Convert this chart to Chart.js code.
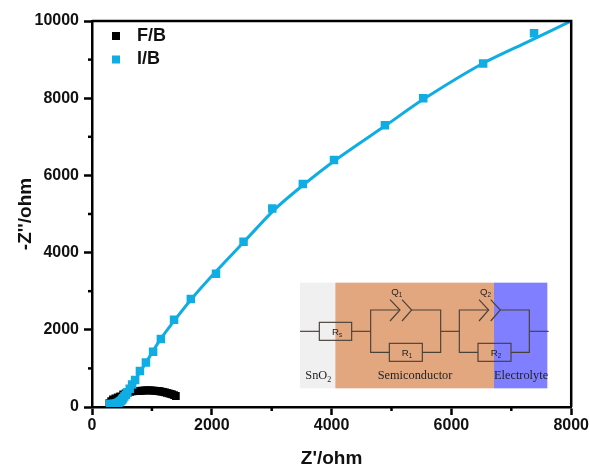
<!DOCTYPE html>
<html lang="en">
<head>
<meta charset="UTF-8">
<title>Nyquist plot</title>
<script src="https://cdn.jsdelivr.net/npm/chart.js"></script>
<style>
    html, body { margin: 0; padding: 0; background: #fff; }
    #box { position: relative; width: 590px; height: 468px; }
</style>
</head>
<body>
<div id="box"><canvas id="nyquist" width="590" height="468"></canvas></div>
<script>
// values
const fbX = [290, 320, 350, 390, 430, 470, 520, 560, 600, 640, 680, 710, 740, 770, 800, 830, 860, 890, 920, 950, 980, 1010, 1040, 1070, 1100, 1130, 1160, 1190, 1220, 1250, 1280, 1310, 1340, 1370, 1400];
const fbY = [100, 150, 195, 225, 250, 275, 325, 350, 375, 395, 405, 410, 415, 418, 420, 422, 425, 428, 430, 430, 430, 425, 425, 420, 415, 408, 400, 392, 380, 368, 355, 340, 325, 305, 285];
const ibX = [300, 340, 370, 395, 415, 430, 445, 460, 475, 490, 505, 520, 540, 565, 590, 630, 670, 720, 800, 900, 1020, 1150, 1370, 1650, 2070, 2530, 3010, 3520, 4040, 4890, 5530, 6530, 7380];
const ibY = [75, 75, 80, 85, 95, 105, 115, 130, 150, 170, 195, 225, 270, 320, 385, 470, 580, 700, 930, 1150, 1430, 1760, 2260, 2800, 3450, 4280, 5140, 5780, 6400, 7300, 8000, 8900, 9680];
const fitX = [300, 380, 440, 500, 570, 650, 750, 900, 1150, 1400, 1700, 2100, 2550, 3050, 3550, 4050, 4900, 5550, 6500, 7300, 8000];
const fitY = [70, 85, 120, 190, 340, 520, 780, 1150, 1770, 2290, 2870, 3560, 4300, 5120, 5780, 6380, 7290, 7990, 8880, 9480, 10000];
const xTicks = [0, 2000, 4000, 6000, 8000];
const yTicks = [0, 2000, 4000, 6000, 8000, 10000];
const xMinor = [1000, 3000, 5000, 7000];
const yMinor = [1000, 3000, 5000, 7000, 9000];
const blue = '#0FADE3';

function pairs(xs, ys) {
    return xs.map((x, i) => ({ x: x, y: ys[i] }));
}

// top and right spines, short ticks
const framePlugin = {
    id: 'frame',
    afterDraw(chart) {
        const ctx = chart.ctx, a = chart.chartArea;
        ctx.save();
        ctx.strokeStyle = '#000';
        ctx.lineWidth = 2.5;
        ctx.beginPath();
        ctx.moveTo(a.left, a.top);
        ctx.lineTo(a.right, a.top);
        ctx.lineTo(a.right, a.bottom);
        ctx.stroke();
        xMinor.forEach(v => {
            const p = chart.scales.x.getPixelForValue(v);
            ctx.beginPath();
            ctx.moveTo(p, a.bottom);
            ctx.lineTo(p, a.bottom + 4);
            ctx.stroke();
        });
        yMinor.forEach(v => {
            const p = chart.scales.y.getPixelForValue(v);
            ctx.beginPath();
            ctx.moveTo(a.left, p);
            ctx.lineTo(a.left - 4, p);
            ctx.stroke();
        });
        ctx.restore();
    }
};

const legendPlugin = {
    id: 'cornerLegend',
    afterDraw(chart) {
        const ctx = chart.ctx;
        ctx.save();
        ctx.font = 'bold 18px "Liberation Sans", Arial, sans-serif';
        ctx.textBaseline = 'middle';
        [0, 1].forEach(i => {
            const ds = chart.data.datasets[i];
            const y = 36 + i * 23.5;
            ctx.fillStyle = ds.pointBackgroundColor;
            ctx.fillRect(112, y - 4, 8, 8);
            ctx.fillStyle = '#111';
            ctx.fillText(ds.label, 137, y);
        });
        ctx.restore();
    }
};

// equivalent circuit, coordinates are at 3x from the inset corner
const insetPlugin = {
    id: 'inset',
    afterDraw(chart) {
        const ctx = chart.ctx;
        ctx.save();
        ctx.translate(290, 270);
        ctx.scale(1 / 3, 1 / 3);
        ctx.fillStyle = '#F0F0F0';
        ctx.fillRect(30, 38, 106, 317);
        ctx.fillStyle = '#E3A780';
        ctx.fillRect(136, 38, 476, 317);
        ctx.fillStyle = '#7F7FFF';
        ctx.fillRect(612, 38, 160, 317);

        ctx.strokeStyle = '#4a4238';
        ctx.lineWidth = 3.5;
        const seg = pts => {
            ctx.beginPath();
            pts.forEach((p, i) => i ? ctx.lineTo(p[0], p[1]) : ctx.moveTo(p[0], p[1]));
            ctx.stroke();
        };
        seg([[30, 184], [88, 184]]);
        seg([[185, 184], [242, 184]]);
        seg([[452, 184], [508, 184]]);
        seg([[718, 184], [776, 184]]);
        seg([[298, 247], [242, 247], [242, 120], [330, 120]]);
        seg([[365, 120], [452, 120], [452, 247], [397, 247]]);
        seg([[564, 247], [508, 247], [508, 120], [596, 120]]);
        seg([[631, 120], [718, 120], [718, 247], [663, 247]]);
        seg([[300, 89], [330, 120], [300, 153]]);
        seg([[336, 89], [365, 120], [336, 153]]);
        seg([[567, 89], [596, 120], [567, 153]]);
        seg([[602, 89], [631, 120], [602, 153]]);
        ctx.strokeRect(88, 157, 97, 54);
        ctx.strokeRect(298, 220, 99, 54);
        ctx.strokeRect(564, 220, 99, 54);

        ctx.fillStyle = '#222';
        ctx.textBaseline = 'alphabetic';
        const sub = (t, s, x, y, font, subFont, dy) => {
            ctx.font = font;
            ctx.fillText(t, x, y);
            const w = ctx.measureText(t).width;
            ctx.font = subFont;
            ctx.fillText(s, x + w, y + dy);
        };
        const sans = '29px "Liberation Sans", Arial, sans-serif';
        const sansSub = '19px "Liberation Sans", Arial, sans-serif';
        sub('R', 's', 126, 194, sans, sansSub, 6);
        sub('R', '1', 335, 258, sans, sansSub, 6);
        sub('R', '2', 602, 258, sans, sansSub, 6);
        sub('Q', '1', 304, 76, sans, sansSub, 6);
        sub('Q', '2', 570, 76, sans, sansSub, 6);
        const serif = '37px "Liberation Serif", "Times New Roman", serif';
        sub('SnO', '2', 46, 327, serif, '24px "Liberation Serif", serif', 8);
        ctx.font = serif;
        ctx.fillText('Semiconductor', 263, 327);
        ctx.fillText('Electrolyte', 612, 327);
        ctx.restore();
    }
};

new Chart(document.getElementById('nyquist').getContext('2d'), {
    type: 'scatter',
    data: {
        datasets: [
            {
                label: 'F/B',
                data: pairs(fbX, fbY),
                order: 3,
                showLine: false,
                pointStyle: 'rect',
                pointRadius: 5.5,
                pointBackgroundColor: '#000',
                pointBorderColor: '#000',
                pointBorderWidth: 0
            },
            {
                label: 'I/B',
                data: pairs(ibX, ibY),
                order: 1,
                showLine: false,
                pointStyle: 'rect',
                pointRadius: 6,
                pointBackgroundColor: blue,
                pointBorderColor: blue,
                pointBorderWidth: 0
            },
            {
                label: 'I/B fit',
                data: pairs(fitX, fitY),
                order: 2,
                showLine: true,
                tension: 0.3,
                borderColor: blue,
                borderWidth: 3,
                pointRadius: 0
            }
        ]
    },
    options: {
        responsive: false,
        animation: false,
        layout: { padding: { top: 21, right: 18.5, left: 0, bottom: 0 } },
        plugins: { legend: { display: false }, tooltip: { enabled: false } },
        scales: {
            x: {
                type: 'linear',
                min: 0,
                max: 8000,
                afterBuildTicks(scale) { scale.ticks = xTicks.map(v => ({ value: v })); },
                afterFit(scale) { scale.height = 61; },
                border: { color: '#000', width: 2.5 },
                grid: { drawOnChartArea: false, color: '#000', tickColor: '#000', tickLength: 8, tickWidth: 2.5 },
                ticks: { color: '#111', font: { family: '"Liberation Sans", Arial, sans-serif', size: 16, weight: 'bold' }, padding: 1, maxRotation: 0, callback: v => String(v) },
                title: { display: true, text: "Z'/ohm", color: '#111', font: { family: '"Liberation Sans", Arial, sans-serif', size: 19, weight: 'bold' }, padding: { top: 5, bottom: -2 } }
            },
            y: {
                type: 'linear',
                min: 0,
                max: 10000,
                afterBuildTicks(scale) { scale.ticks = yTicks.map(v => ({ value: v })); },
                afterFit(scale) { scale.width = 92; },
                border: { color: '#000', width: 2.5 },
                grid: { drawOnChartArea: false, color: '#000', tickColor: '#000', tickLength: 8, tickWidth: 2.5 },
                ticks: { color: '#111', font: { family: '"Liberation Sans", Arial, sans-serif', size: 16, weight: 'bold' }, padding: 5, callback: v => String(v) },
                title: { display: true, text: "-Z''/ohm", color: '#111', font: { family: '"Liberation Sans", Arial, sans-serif', size: 19, weight: 'bold' }, padding: { top: 14, bottom: 0 } }
            }
        }
    },
    plugins: [framePlugin, insetPlugin, legendPlugin]
});
</script>
</body>
</html>
